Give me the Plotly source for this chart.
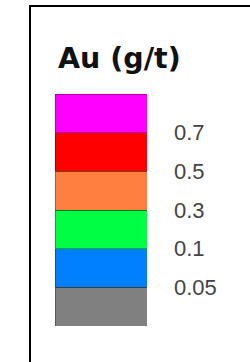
import plotly.graph_objects as go

# Data
title_text = "Au (g/t)"
classes = ["< 0.05", "0.05-0.1", "0.1-0.3", "0.3-0.5", "0.5-0.7", "> 0.7"]
class_sizes = [1, 1, 1, 1, 1, 1]
class_colors = ["#808080", "#0080FF", "#00FF44", "#FF7F40", "#FF0000", "#FF00FF"]
tick_positions = [1, 2, 3, 4, 5]
tick_labels = ["0.05", "0.1", "0.3", "0.5", "0.7"]

W, H = 250, 362

fig = go.Figure()
for name, size, color in zip(classes, class_sizes, class_colors):
    fig.add_trace(go.Bar(
        x=[0], y=[size], name=name,
        marker=dict(color=color, line=dict(color="rgba(0,0,0,0.3)", width=1)),
        width=1, showlegend=False, hoverinfo="skip",
    ))

fig.update_layout(
    barmode="stack",
    width=W, height=H,
    margin=dict(l=0, r=0, t=0, b=0),
    paper_bgcolor="white", plot_bgcolor="white",
    xaxis=dict(domain=[55 / W, 147 / W], range=[-0.5, 0.5], visible=False, fixedrange=True),
    yaxis=dict(
        domain=[1 - 326 / H, 1 - 94 / H], range=[0, 6], side="right",
        tickvals=tick_positions, ticktext=tick_labels,
        showgrid=False, zeroline=False, showline=False, ticks="",
        ticklabelstandoff=26,
        tickfont=dict(family="Liberation Sans, Arial, sans-serif", size=22, color="#444444"),
        fixedrange=True,
    ),
    annotations=[dict(
        text="<b>" + title_text + "</b>", xref="paper", yref="paper",
        x=56 / W, y=1 - 58 / H, xanchor="left", yanchor="middle",
        showarrow=False,
        font=dict(family="DejaVu Sans, sans-serif", size=28.5, color="#111111"),
    )],
    shapes=[
        dict(type="line", xref="paper", yref="paper", x0=30 / W, x1=1.0, y0=1 - 6 / H, y1=1 - 6 / H,
             line=dict(color="black", width=2)),
        dict(type="line", xref="paper", yref="paper", x0=30 / W, x1=30 / W, y0=1 - 5 / H, y1=0,
             line=dict(color="black", width=2)),
    ],
)

fig.write_html(
    "out.html",
    config={"displayModeBar": False},
    post_script="document.body.style.margin='0';document.body.style.overflow='hidden';",
)
